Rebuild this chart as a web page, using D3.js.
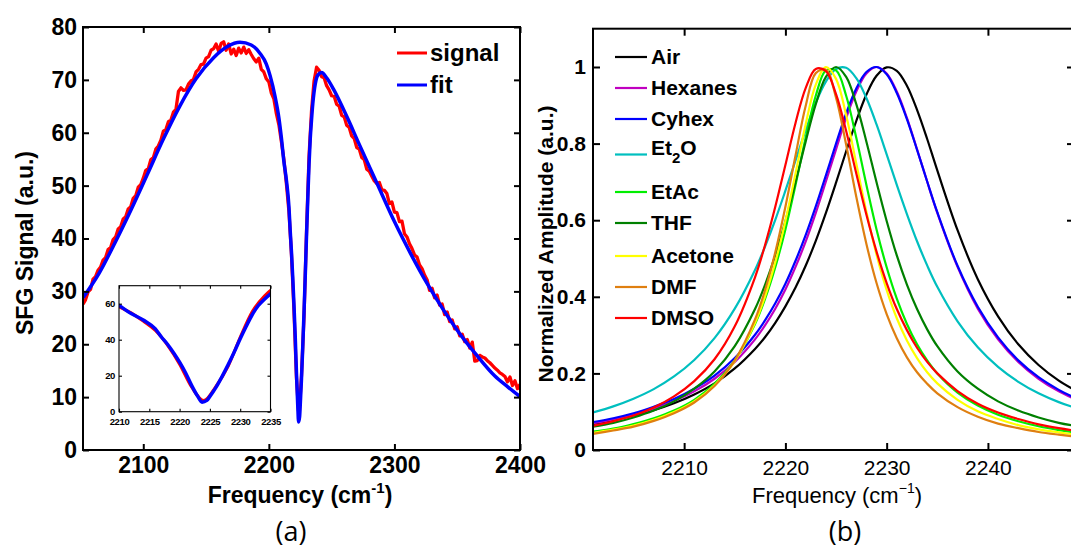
<!DOCTYPE html>
<html>
<head>
<meta charset="utf-8">
<script src="https://cdn.jsdelivr.net/npm/d3@7"></script>
<style>
  body { margin: 0; background: #fff; }
  svg { display: block; font-family: 'Liberation Sans', Arial, sans-serif; }
</style>
</head>
<body>
<script>
// panel (a): measured SFG signal and its fit
const sigFreq = d3.range(2052, 2401, 2)
const signal = [
  27.6, 28.4, 29.9, 30.4, 32.3, 32.8, 34.0, 34.6, 35.9, 36.4,
  37.9, 38.3, 39.8, 40.3, 41.8, 42.2, 43.7, 44.1, 45.6, 46.0,
  47.6, 48.1, 49.7, 50.2, 51.4, 52.9, 53.2, 54.9, 55.3, 56.9,
  57.5, 58.6, 60.3, 60.6, 62.1, 62.4, 63.9, 64.4, 67.8, 68.5,
  68.0, 68.1, 69.2, 69.8, 70.1, 71.5, 72.0, 72.9, 73.0, 74.1,
  74.4, 75.6, 75.9, 76.8, 75.4, 76.9, 77.2, 75.6, 76.8, 74.9,
  75.8, 74.6, 76.0, 75.1, 76.2, 75.0, 75.7, 74.8, 74.0, 73.4,
  74.1, 72.0, 71.5, 70.2, 69.6, 67.5, 66.4, 63.6, 61.5, 58.3,
  54.9, 50.3, 45.1, 37.0, 26.4, 13.6, 6.2, 14.1, 25.2, 41.3,
  55.6, 64.2, 69.8, 72.4, 71.8, 70.6, 70.4, 68.9, 68.1, 67.0,
  66.9, 65.4, 65.0, 63.3, 63.0, 61.4, 61.0, 59.4, 58.9, 57.2,
  56.9, 55.3, 54.9, 53.1, 52.7, 51.8, 50.9, 50.4, 50.6, 49.2,
  49.1, 48.5, 46.6, 46.9, 45.0, 44.9, 43.2, 43.3, 40.9, 40.3,
  39.0, 38.1, 36.9, 36.5, 35.0, 34.3, 33.1, 32.2, 30.2, 30.6,
  28.8, 29.3, 27.4, 27.6, 25.6, 26.1, 24.3, 24.6, 22.9, 23.3,
  21.6, 21.9, 20.5, 20.9, 19.3, 20.4, 16.8, 16.9, 17.9, 17.6,
  17.4, 16.9, 16.5, 16.0, 15.5, 15.1, 14.6, 14.3, 13.9, 12.9,
  13.8, 12.2, 13.1, 11.6, 12.4
]
const fitFreq = [
  2052, 2065, 2076, 2090, 2103, 2116, 2129, 2142, 2156, 2167,
  2177, 2186, 2193, 2198, 2201, 2205, 2208, 2210, 2212, 2214,
  2216, 2217, 2218, 2219, 2220, 2221, 2222, 2223, 2223.7, 2224.5,
  2225, 2226, 2227, 2228, 2229, 2230, 2231, 2232, 2233, 2234,
  2235, 2237, 2239, 2242, 2246, 2252, 2262, 2272, 2286, 2300,
  2313, 2326, 2339, 2352, 2366, 2380, 2390, 2400
]
const fitVals = [
  28.8, 33.5, 38.5, 45.3, 52.0, 58.8, 65.0, 70.2, 74.2, 76.3,
  77.1, 76.6, 75.0, 73.0, 70.8, 66.8, 62.8, 59.0, 54.5, 51.0,
  46.0, 41.5, 37.5, 32.8, 27.5, 21.5, 14.5, 8.5, 5.3, 6.3,
  8.5, 13.5, 19.5, 26.0, 33.0, 40.5, 47.5, 54.0, 59.0, 62.5,
  65.5, 69.3, 70.9, 71.4, 70.4, 68.0, 63.1, 57.8, 50.5, 43.2,
  37.1, 31.5, 26.5, 22.0, 17.8, 14.0, 12.0, 10.1
]
const ticksAx = [2100, 2200, 2300, 2400]
const ticksAy = [0, 10, 20, 30, 40, 50, 60, 70, 80]
const ticksIx = [2210, 2215, 2220, 2225, 2230, 2235]
const ticksIy = [0, 20, 40, 60]

// panel (b): normalized amplitude for each solvent
const ampFreq = [
  2201, 2203, 2205, 2207, 2209, 2211, 2213, 2215, 2217, 2218,
  2219, 2220, 2221, 2222, 2223, 2224, 2225, 2226, 2227, 2228,
  2229, 2230, 2231, 2232, 2233, 2234, 2235, 2237, 2239, 2241,
  2243, 2245, 2247, 2249
]
const air = [
  0.068, 0.078, 0.090, 0.104, 0.122, 0.145, 0.174, 0.213, 0.264, 0.295,
  0.332, 0.375, 0.424, 0.481, 0.546, 0.619, 0.698, 0.780, 0.859, 0.928,
  0.977, 0.999, 0.990, 0.951, 0.888, 0.812, 0.730, 0.574, 0.446, 0.349,
  0.276, 0.222, 0.181, 0.150
]
const hexanes = [
  0.070, 0.080, 0.092, 0.108, 0.128, 0.153, 0.186, 0.230, 0.289, 0.326,
  0.369, 0.419, 0.478, 0.544, 0.619, 0.701, 0.785, 0.867, 0.936, 0.983,
  1.000, 0.983, 0.936, 0.867, 0.785, 0.701, 0.619, 0.478, 0.369, 0.289,
  0.230, 0.186, 0.153, 0.128
]
const cyhex = [
  0.073, 0.083, 0.096, 0.113, 0.133, 0.160, 0.194, 0.240, 0.301, 0.339,
  0.383, 0.434, 0.494, 0.561, 0.636, 0.717, 0.800, 0.879, 0.944, 0.987,
  1.000, 0.981, 0.932, 0.864, 0.784, 0.701, 0.621, 0.481, 0.374, 0.294,
  0.234, 0.190, 0.157, 0.131
]
const et2o = [
  0.098, 0.114, 0.134, 0.159, 0.192, 0.235, 0.292, 0.369, 0.470, 0.532,
  0.601, 0.677, 0.756, 0.835, 0.907, 0.962, 0.995, 0.998, 0.971, 0.919,
  0.850, 0.772, 0.692, 0.616, 0.545, 0.482, 0.426, 0.336, 0.268, 0.217,
  0.178, 0.148, 0.125, 0.107
]
const etac = [
  0.048, 0.056, 0.068, 0.083, 0.103, 0.131, 0.173, 0.234, 0.329, 0.395,
  0.477, 0.576, 0.692, 0.815, 0.925, 0.991, 0.991, 0.925, 0.815, 0.692,
  0.576, 0.477, 0.395, 0.329, 0.276, 0.234, 0.200, 0.150, 0.116, 0.092,
  0.075, 0.062, 0.052, 0.044
]
const thf = [
  0.061, 0.071, 0.085, 0.103, 0.127, 0.160, 0.205, 0.271, 0.368, 0.432,
  0.508, 0.598, 0.699, 0.805, 0.903, 0.974, 1.000, 0.974, 0.903, 0.805,
  0.699, 0.598, 0.508, 0.432, 0.368, 0.315, 0.271, 0.205, 0.160, 0.127,
  0.103, 0.085, 0.071, 0.061
]
const acetone = [
  0.045, 0.053, 0.064, 0.079, 0.099, 0.127, 0.169, 0.232, 0.332, 0.402,
  0.490, 0.598, 0.722, 0.850, 0.954, 1.000, 0.969, 0.874, 0.748, 0.622,
  0.510, 0.418, 0.344, 0.286, 0.240, 0.203, 0.174, 0.131, 0.101, 0.081,
  0.065, 0.054, 0.046, 0.039
]
const dmf = [
  0.042, 0.051, 0.061, 0.076, 0.096, 0.124, 0.167, 0.234, 0.341, 0.418,
  0.516, 0.635, 0.769, 0.898, 0.984, 0.993, 0.920, 0.797, 0.661, 0.538,
  0.436, 0.355, 0.292, 0.242, 0.203, 0.173, 0.148, 0.112, 0.087, 0.069,
  0.057, 0.047, 0.040, 0.034
]
const dmso = [
  0.063, 0.075, 0.090, 0.111, 0.140, 0.180, 0.237, 0.323, 0.451, 0.536,
  0.635, 0.744, 0.854, 0.945, 0.995, 0.989, 0.929, 0.833, 0.722, 0.614,
  0.518, 0.436, 0.368, 0.313, 0.267, 0.230, 0.200, 0.154, 0.121, 0.098,
  0.081, 0.067, 0.057, 0.049
]
const solvents = ['Air', 'Hexanes', 'Cyhex', 'Et2O', 'EtAc', 'THF', 'Acetone', 'DMF', 'DMSO']
const ampSeries = [air, hexanes, cyhex, et2o, etac, thf, acetone, dmf, dmso]
const solventColors = ['#000000', '#c000c0', '#0000ff', '#00bfbf', '#00ee00', '#008000', '#ffff00', '#df7f10', '#ff0000']
const ticksBx = [2210, 2220, 2230, 2240]
const ticksBy = [0, 0.2, 0.4, 0.6, 0.8, 1]

const W = 1071, H = 553
const svg = d3.select('body').append('svg').attr('width', W).attr('height', H)

// box with inward ticks on all four sides, MATLAB style
function boxAxes(g, x, y, xt, yt, o) {
  const [x0, x1] = x.range(), [y0, y1] = y.range()
  const bx = g.append('g').attr('transform', `translate(0,${y0})`)
    .call(d3.axisBottom(x).tickValues(xt).tickSize(-o.len).tickPadding(o.padX).tickFormat(String))
  g.append('g').attr('transform', `translate(0,${y1})`)
    .call(d3.axisTop(x).tickValues(xt).tickSize(-o.len).tickFormat(''))
  const ly = g.append('g').attr('transform', `translate(${x0},0)`)
    .call(d3.axisLeft(y).tickValues(yt).tickSize(-o.len).tickPadding(o.padY).tickFormat(String))
  g.append('g').attr('transform', `translate(${x1},0)`)
    .call(d3.axisRight(y).tickValues(yt).tickSize(-o.len).tickFormat(''))
  g.selectAll('.domain').remove()
  g.selectAll('.tick line').attr('stroke', '#000').attr('stroke-width', o.sw)
  bx.selectAll('text').attr('font-size', o.fsX).attr('font-weight', o.fwX).attr('fill', '#000').attr('font-family', null)
  ly.selectAll('text').attr('font-size', o.fsY).attr('font-weight', o.fwY).attr('fill', '#000').attr('font-family', null)
  g.append('rect')
    .attr('x', x0).attr('y', y1).attr('width', x1 - x0).attr('height', y0 - y1)
    .attr('fill', 'none').attr('stroke', '#000').attr('stroke-width', o.sw)
}

function clip(id, x, y) {
  svg.append('clipPath').attr('id', id).append('rect')
    .attr('x', x.range()[0]).attr('y', y.range()[1])
    .attr('width', x.range()[1] - x.range()[0]).attr('height', y.range()[0] - y.range()[1])
}

// ---------- panel (a) ----------
const xA = d3.scaleLinear().domain([2052, 2400]).range([83, 520])
const yA = d3.scaleLinear().domain([0, 80]).range([450, 27])
clip('clipA', xA, yA)

const sigPts = sigFreq.map((f, i) => [f, signal[i]])
const fitPts = fitFreq.map((f, i) => [f, fitVals[i]])

const lineA = d3.line().x(d => xA(d[0])).y(d => yA(d[1]))
const fitLineA = d3.line().x(d => xA(d[0])).y(d => yA(d[1])).curve(d3.curveMonotoneX)

const gA = svg.append('g')
gA.append('path').datum(sigPts).attr('d', lineA).attr('clip-path', 'url(#clipA)')
  .attr('fill', 'none').attr('stroke', '#ff0000').attr('stroke-width', 3.3).attr('stroke-linejoin', 'round')
gA.append('path').datum(fitPts).attr('d', fitLineA).attr('clip-path', 'url(#clipA)')
  .attr('fill', 'none').attr('stroke', '#0000ff').attr('stroke-width', 3.5).attr('stroke-linejoin', 'round')

boxAxes(gA, xA, yA, ticksAx, ticksAy, { len: 6, sw: 2, padX: 7, padY: 6, fsX: 23, fsY: 23, fwX: 'bold', fwY: 'bold' })

// legend (a)
const legA = [['signal', '#ff0000', 53], ['fit', '#0000ff', 85]]
legA.forEach(([name, col, ly]) => {
  gA.append('line').attr('x1', 397).attr('x2', 427).attr('y1', ly).attr('y2', ly)
    .attr('stroke', col).attr('stroke-width', 3)
  gA.append('text').attr('x', 430).attr('y', ly).attr('dy', '0.35em')
    .attr('font-size', 24).attr('font-weight', 'bold').text(name)
})

gA.append('text').attr('transform', 'translate(25,243) rotate(-90)')
  .attr('text-anchor', 'middle').attr('dy', '0.35em')
  .attr('font-size', 23).attr('font-weight', 'bold').text('SFG Signal (a.u.)')

const xlabA = gA.append('text').attr('x', 300).attr('y', 503)
  .attr('text-anchor', 'middle').attr('font-size', 23).attr('font-weight', 'bold')
xlabA.append('tspan').text('Frequency (cm')
xlabA.append('tspan').attr('dy', -10).attr('font-size', 15).text('-1')
xlabA.append('tspan').attr('dy', 10).text(')')

gA.append('text').attr('x', 291).attr('y', 541).attr('text-anchor', 'middle')
  .attr('font-family', "'Open Sans', sans-serif").attr('font-size', 27).text('(a)')

// inset
const xI = d3.scaleLinear().domain([2210, 2235]).range([119, 270.5])
const yI = d3.scaleLinear().domain([0, 70]).range([411.7, 285.7])
clip('clipI', xI, yI)
const gI = svg.append('g')
gI.append('rect').attr('x', 119).attr('y', 285.7).attr('width', 151.5).attr('height', 126).attr('fill', '#fff')
const lineI = d3.line().x(d => xI(d[0])).y(d => yI(d[1])).curve(d3.curveMonotoneX)
gI.append('path').datum(sigPts.filter(d => d[0] >= 2206 && d[0] <= 2240)).attr('d', lineI).attr('clip-path', 'url(#clipI)')
  .attr('fill', 'none').attr('stroke', '#ff0000').attr('stroke-width', 3)
gI.append('path').datum(fitPts.filter(d => d[0] >= 2205 && d[0] <= 2242)).attr('d', lineI).attr('clip-path', 'url(#clipI)')
  .attr('fill', 'none').attr('stroke', '#0000ff').attr('stroke-width', 3.5)
boxAxes(gI, xI, yI, ticksIx, ticksIy, { len: 3, sw: 1.1, padX: 7, padY: 4, fsX: 9.5, fsY: 9.5, fwX: 'bold', fwY: 'bold' })
gI.selectAll('.tick text').attr('letter-spacing', -0.4)

// ---------- panel (b) ----------
const xB = d3.scaleLinear().domain([2201, 2248.5]).range([593, 1074])
const yB = d3.scaleLinear().domain([0, 1.1]).range([450, 28.7])
clip('clipB', xB, yB)

const lineB = d3.line().x((d, i) => xB(ampFreq[i])).y(d => yB(d)).curve(d3.curveCatmullRom)
const gB = svg.append('g')
ampSeries.forEach((s, k) => {
  gB.append('path').datum(s).attr('d', lineB).attr('clip-path', 'url(#clipB)')
    .attr('fill', 'none').attr('stroke', solventColors[k]).attr('stroke-width', 2.2)
})

boxAxes(gB, xB, yB, ticksBx, ticksBy, { len: 7, sw: 2, padX: 10, padY: 7, fsX: 21, fsY: 21, fwX: 'normal', fwY: 'bold' })

// legend (b)
const legRowY = [57, 88, 119, 154.5, 192, 223, 256, 287, 318]
solvents.forEach((name, k) => {
  const ly = legRowY[k]
  gB.append('line').attr('x1', 615).attr('x2', 647).attr('y1', ly).attr('y2', ly)
    .attr('stroke', solventColors[k]).attr('stroke-width', 2.2)
  const t = gB.append('text').attr('x', 651).attr('font-size', 21).attr('font-weight', 'bold')
  if (name === 'Et2O') {
    t.attr('y', ly - 7).attr('dy', '0.35em')
    t.append('tspan').text('Et')
    t.append('tspan').attr('dy', 8).attr('font-size', 15).text('2')
    t.append('tspan').attr('dy', -8).text('O')
  } else {
    t.attr('y', ly).attr('dy', '0.35em').text(name)
  }
})

gB.append('text').attr('transform', 'translate(546,244) rotate(-90)')
  .attr('text-anchor', 'middle').attr('dy', '0.35em')
  .attr('font-size', 21).attr('font-weight', 'bold').text('Normalized Amplitude (a.u.)')

const xlabB = gB.append('text').attr('x', 837).attr('y', 503)
  .attr('text-anchor', 'middle').attr('font-size', 22)
xlabB.append('tspan').text('Frequency (cm')
xlabB.append('tspan').attr('dy', -10).attr('font-size', 14).text('\u22121')
xlabB.append('tspan').attr('dy', 10).text(')')

gB.append('text').attr('x', 845).attr('y', 541).attr('text-anchor', 'middle')
  .attr('font-family', "'Open Sans', sans-serif").attr('font-size', 27).text('(b)')
</script>
</body>
</html>
